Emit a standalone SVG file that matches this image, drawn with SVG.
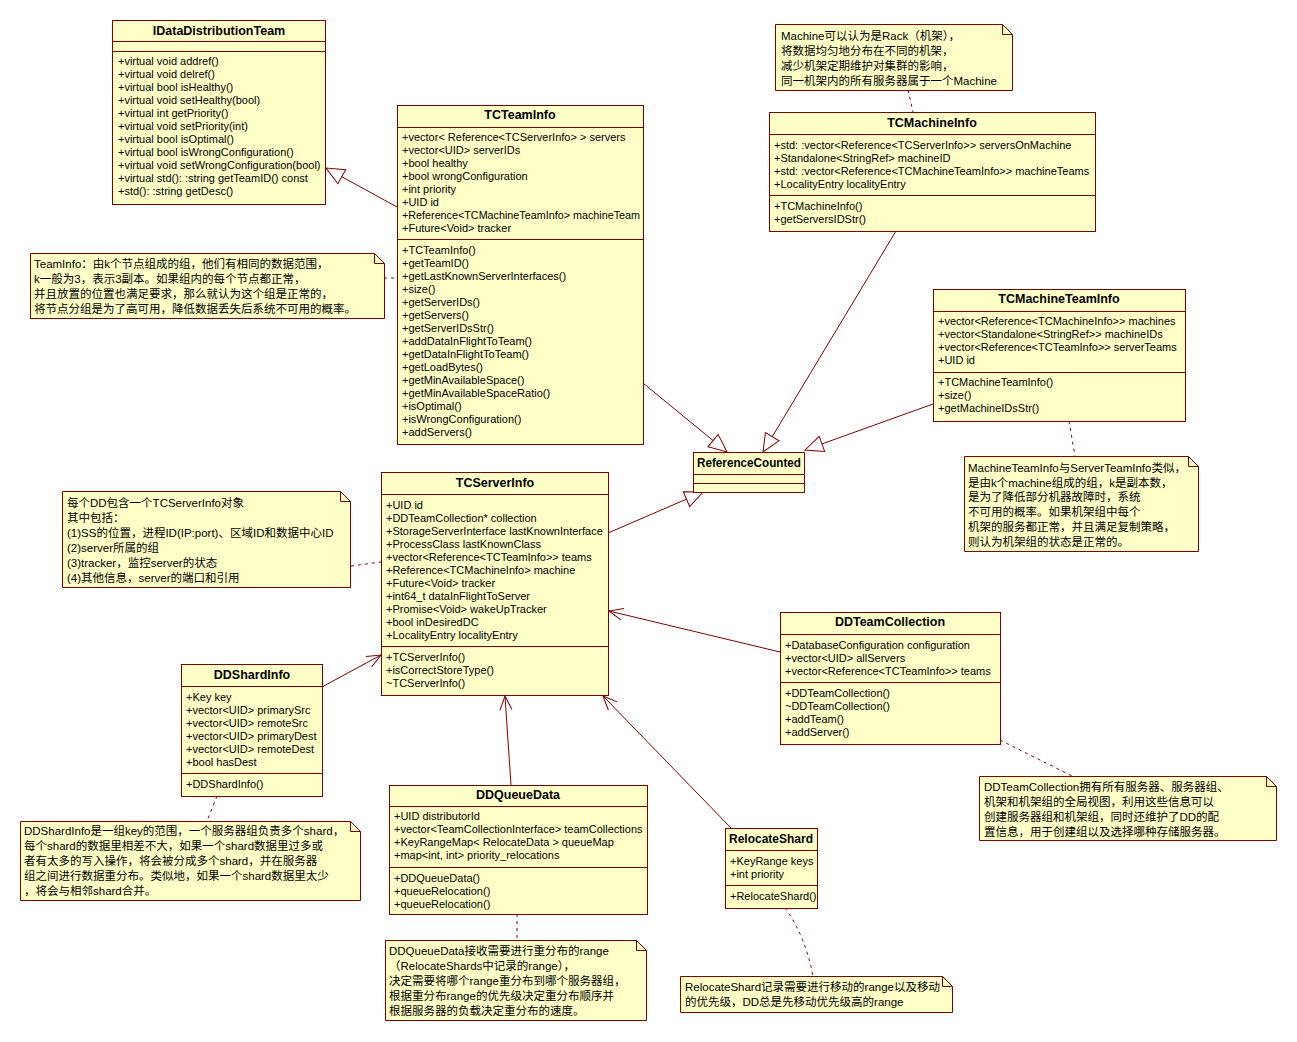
<svg xmlns="http://www.w3.org/2000/svg" width="1297" height="1042" viewBox="0 0 1297 1042">
<style>
.box{fill:#FFFFC8;stroke:#800000;stroke-width:1}
.sep{stroke:#800000;stroke-width:1}
.t{font-family:"Liberation Sans",Arial,sans-serif;font-size:11px;fill:#000}
.h{font-family:"Liberation Sans",Arial,sans-serif;font-size:12.5px;font-weight:bold;fill:#000;text-anchor:middle}
.n{font-family:"Liberation Sans","Noto Sans CJK SC",sans-serif;font-size:11.5px;fill:#000}
.gen{stroke:#800000;stroke-width:1;fill:none;marker-end:url(#tri)}
.asc{stroke:#800000;stroke-width:1;fill:none;marker-end:url(#open)}
.dash{stroke:#800000;stroke-width:1;fill:none;stroke-dasharray:3,4}
</style>
<defs>
<marker id="tri" viewBox="0 0 20 20" refX="19" refY="10" markerWidth="20" markerHeight="20" orient="auto" markerUnits="userSpaceOnUse"><path d="M1,2 L19,10 L1,18 z" fill="#fff" stroke="#800000"/></marker>
<marker id="open" viewBox="0 0 16 14" refX="15" refY="7" markerWidth="16" markerHeight="14" orient="auto" markerUnits="userSpaceOnUse"><path d="M1,1 L15,7 L1,13" fill="none" stroke="#800000"/></marker>
</defs>
<rect width="1297" height="1042" fill="#fff"/>

<g id="connectors">
<line class="gen" x1="397" y1="207" x2="326" y2="168"/>
<line class="gen" x1="643" y1="383" x2="727" y2="452"/>
<line class="gen" x1="896" y1="231" x2="763" y2="452"/>
<line class="gen" x1="933" y1="404" x2="805" y2="450"/>
<line class="gen" x1="608" y1="533" x2="703" y2="492"/>
<line class="asc" x1="780" y1="652" x2="609" y2="611"/>
<line class="asc" x1="322" y1="687" x2="381" y2="655"/>
<line class="asc" x1="511" y1="785" x2="505" y2="696"/>
<line class="asc" x1="731" y1="828" x2="603" y2="696"/>
<line class="dash" x1="908" y1="90" x2="913" y2="112"/>
<line class="dash" x1="384" y1="278" x2="397" y2="278"/>
<line class="dash" x1="1069" y1="421" x2="1075" y2="456"/>
<line class="dash" x1="351" y1="566" x2="381" y2="562"/>
<line class="dash" x1="217" y1="796" x2="207" y2="821"/>
<line class="dash" x1="517" y1="914" x2="517" y2="940"/>
<line class="dash" x1="1000" y1="740" x2="1072" y2="776"/>
<path class="dash" d="M785,908 Q805,935 813,976"/>
</g>

<g id="IDataDistributionTeam">
<rect class="box" x="112.5" y="20.5" width="213" height="184"/>
<text class="h" x="219" y="35">IDataDistributionTeam</text>
<line class="sep" x1="112.5" y1="41.5" x2="325.5" y2="41.5"/>
<line class="sep" x1="112.5" y1="51.5" x2="325.5" y2="51.5"/>
<text class="t" x="118" y="65">+virtual void addref()</text>
<text class="t" x="118" y="78">+virtual void delref()</text>
<text class="t" x="118" y="91">+virtual bool isHealthy()</text>
<text class="t" x="118" y="104">+virtual void setHealthy(bool)</text>
<text class="t" x="118" y="117">+virtual int getPriority()</text>
<text class="t" x="118" y="130">+virtual void setPriority(int)</text>
<text class="t" x="118" y="143">+virtual bool isOptimal()</text>
<text class="t" x="118" y="156">+virtual bool isWrongConfiguration()</text>
<text class="t" x="118" y="169">+virtual void setWrongConfiguration(bool)</text>
<text class="t" x="118" y="182">+virtual std(): :string getTeamID() const</text>
<text class="t" x="118" y="195">+std(): :string getDesc()</text>
</g>

<g id="TCTeamInfo">
<rect class="box" x="397.5" y="105.5" width="246" height="339"/>
<text class="h" x="520" y="119">TCTeamInfo</text>
<line class="sep" x1="397.5" y1="127.5" x2="643.5" y2="127.5"/>
<text class="t" x="402" y="141">+vector&lt; Reference&lt;TCServerInfo&gt; &gt; servers</text>
<text class="t" x="402" y="154">+vector&lt;UID&gt; serverIDs</text>
<text class="t" x="402" y="167">+bool healthy</text>
<text class="t" x="402" y="180">+bool wrongConfiguration</text>
<text class="t" x="402" y="193">+int priority</text>
<text class="t" x="402" y="206">+UID id</text>
<text class="t" x="402" y="219" textLength="238" lengthAdjust="spacingAndGlyphs">+Reference&lt;TCMachineTeamInfo&gt; machineTeam</text>
<text class="t" x="402" y="232">+Future&lt;Void&gt; tracker</text>
<line class="sep" x1="397.5" y1="239.5" x2="643.5" y2="239.5"/>
<text class="t" x="402" y="254">+TCTeamInfo()</text>
<text class="t" x="402" y="267">+getTeamID()</text>
<text class="t" x="402" y="280">+getLastKnownServerInterfaces()</text>
<text class="t" x="402" y="293">+size()</text>
<text class="t" x="402" y="306">+getServerIDs()</text>
<text class="t" x="402" y="319">+getServers()</text>
<text class="t" x="402" y="332">+getServerIDsStr()</text>
<text class="t" x="402" y="345">+addDataInFlightToTeam()</text>
<text class="t" x="402" y="358">+getDataInFlightToTeam()</text>
<text class="t" x="402" y="371">+getLoadBytes()</text>
<text class="t" x="402" y="384">+getMinAvailableSpace()</text>
<text class="t" x="402" y="397">+getMinAvailableSpaceRatio()</text>
<text class="t" x="402" y="410">+isOptimal()</text>
<text class="t" x="402" y="423">+isWrongConfiguration()</text>
<text class="t" x="402" y="436">+addServers()</text>
</g>

<g id="MachineNote">
<path class="box" d="M775.5,24.5 H1002.5 L1012.5,34.5 V90.5 H775.5 Z"/>
<path class="sep" fill="none" d="M1002.5,24.5 V34.5 H1012.5"/>
<text class="n" x="781" y="40">Machine可以认为是Rack（机架），</text>
<text class="n" x="781" y="55">将数据均匀地分布在不同的机架，</text>
<text class="n" x="781" y="70">减少机架定期维护对集群的影响，</text>
<text class="n" x="781" y="85">同一机架内的所有服务器属于一个Machine</text>
</g>

<g id="TCMachineInfo">
<rect class="box" x="769.5" y="112.5" width="326" height="119"/>
<text class="h" x="932" y="127">TCMachineInfo</text>
<line class="sep" x1="769.5" y1="134.5" x2="1095.5" y2="134.5"/>
<text class="t" x="774" y="149">+std: :vector&lt;Reference&lt;TCServerInfo&gt;&gt; serversOnMachine</text>
<text class="t" x="774" y="162">+Standalone&lt;StringRef&gt; machineID</text>
<text class="t" x="774" y="175">+std: :vector&lt;Reference&lt;TCMachineTeamInfo&gt;&gt; machineTeams</text>
<text class="t" x="774" y="188">+LocalityEntry localityEntry</text>
<line class="sep" x1="769.5" y1="195.5" x2="1095.5" y2="195.5"/>
<text class="t" x="774" y="210">+TCMachineInfo()</text>
<text class="t" x="774" y="223">+getServersIDStr()</text>
</g>

<g id="TCMachineTeamInfo">
<rect class="box" x="933.5" y="289.5" width="252" height="132"/>
<text class="h" x="1059" y="303">TCMachineTeamInfo</text>
<line class="sep" x1="933.5" y1="311.5" x2="1185.5" y2="311.5"/>
<text class="t" x="938" y="325">+vector&lt;Reference&lt;TCMachineInfo&gt;&gt; machines</text>
<text class="t" x="938" y="338">+vector&lt;Standalone&lt;StringRef&gt;&gt; machineIDs</text>
<text class="t" x="938" y="351">+vector&lt;Reference&lt;TCTeamInfo&gt;&gt; serverTeams</text>
<text class="t" x="938" y="364">+UID id</text>
<line class="sep" x1="933.5" y1="372.5" x2="1185.5" y2="372.5"/>
<text class="t" x="938" y="386">+TCMachineTeamInfo()</text>
<text class="t" x="938" y="399">+size()</text>
<text class="t" x="938" y="412">+getMachineIDsStr()</text>
</g>

<g id="TeamInfoNote">
<path class="box" d="M30.5,253.5 H374.5 L384.5,263.5 V318.5 H30.5 Z"/>
<path class="sep" fill="none" d="M374.5,253.5 V263.5 H384.5"/>
<text class="n" x="34" y="268">TeamInfo：由k个节点组成的组，他们有相同的数据范围，</text>
<text class="n" x="34" y="283">k一般为3，表示3副本。如果组内的每个节点都正常，</text>
<text class="n" x="34" y="298">并且放置的位置也满足要求，那么就认为这个组是正常的，</text>
<text class="n" x="34" y="313">将节点分组是为了高可用，降低数据丢失后系统不可用的概率。</text>
</g>

<g id="ReferenceCounted">
<rect class="box" x="693.5" y="452.5" width="111" height="40"/>
<text class="h" x="749" y="467" textLength="104" lengthAdjust="spacingAndGlyphs">ReferenceCounted</text>
<line class="sep" x1="693.5" y1="474.5" x2="804.5" y2="474.5"/>
<line class="sep" x1="693.5" y1="483.5" x2="804.5" y2="483.5"/>
</g>

<g id="MachineTeamInfoNote">
<path class="box" d="M964.5,456.5 H1188.5 L1198.5,466.5 V551.5 H964.5 Z"/>
<path class="sep" fill="none" d="M1188.5,456.5 V466.5 H1198.5"/>
<text class="n" x="968" y="472">MachineTeamInfo与ServerTeamInfo类似，</text>
<text class="n" x="968" y="487">是由k个machine组成的组，k是副本数，</text>
<text class="n" x="968" y="501">是为了降低部分机器故障时，系统</text>
<text class="n" x="968" y="516">不可用的概率。如果机架组中每个</text>
<text class="n" x="968" y="531">机架的服务都正常，并且满足复制策略，</text>
<text class="n" x="968" y="546">则认为机架组的状态是正常的。</text>
</g>

<g id="TCServerInfo">
<rect class="box" x="381.5" y="472.5" width="227" height="223"/>
<text class="h" x="495" y="487">TCServerInfo</text>
<line class="sep" x1="381.5" y1="494.5" x2="608.5" y2="494.5"/>
<text class="t" x="386" y="509">+UID id</text>
<text class="t" x="386" y="522">+DDTeamCollection* collection</text>
<text class="t" x="386" y="535">+StorageServerInterface lastKnownInterface</text>
<text class="t" x="386" y="548">+ProcessClass lastKnownClass</text>
<text class="t" x="386" y="561">+vector&lt;Reference&lt;TCTeamInfo&gt;&gt; teams</text>
<text class="t" x="386" y="574">+Reference&lt;TCMachineInfo&gt; machine</text>
<text class="t" x="386" y="587">+Future&lt;Void&gt; tracker</text>
<text class="t" x="386" y="600">+int64_t dataInFlightToServer</text>
<text class="t" x="386" y="613">+Promise&lt;Void&gt; wakeUpTracker</text>
<text class="t" x="386" y="626">+bool inDesiredDC</text>
<text class="t" x="386" y="639">+LocalityEntry localityEntry</text>
<line class="sep" x1="381.5" y1="646.5" x2="608.5" y2="646.5"/>
<text class="t" x="386" y="661">+TCServerInfo()</text>
<text class="t" x="386" y="674">+isCorrectStoreType()</text>
<text class="t" x="386" y="687">~TCServerInfo()</text>
</g>

<g id="DDNote">
<path class="box" d="M62.5,491.5 H340.5 L350.5,501.5 V587.5 H62.5 Z"/>
<path class="sep" fill="none" d="M340.5,491.5 V501.5 H350.5"/>
<text class="n" x="67" y="507">每个DD包含一个TCServerInfo对象</text>
<text class="n" x="67" y="522">其中包括：</text>
<text class="n" x="67" y="537">(1)SS的位置，进程ID(IP:port)、区域ID和数据中心ID</text>
<text class="n" x="67" y="552">(2)server所属的组</text>
<text class="n" x="67" y="567">(3)tracker，监控server的状态</text>
<text class="n" x="67" y="582">(4)其他信息，server的端口和引用</text>
</g>

<g id="DDShardInfo">
<rect class="box" x="181.5" y="664.5" width="141" height="132"/>
<text class="h" x="252" y="679">DDShardInfo</text>
<line class="sep" x1="181.5" y1="686.5" x2="322.5" y2="686.5"/>
<text class="t" x="186" y="701">+Key key</text>
<text class="t" x="186" y="714">+vector&lt;UID&gt; primarySrc</text>
<text class="t" x="186" y="727">+vector&lt;UID&gt; remoteSrc</text>
<text class="t" x="186" y="740">+vector&lt;UID&gt; primaryDest</text>
<text class="t" x="186" y="753">+vector&lt;UID&gt; remoteDest</text>
<text class="t" x="186" y="766">+bool hasDest</text>
<line class="sep" x1="181.5" y1="773.5" x2="322.5" y2="773.5"/>
<text class="t" x="186" y="788">+DDShardInfo()</text>
</g>

<g id="DDShardInfoNote">
<path class="box" d="M20.5,821.5 H350.5 L360.5,831.5 V900.5 H20.5 Z"/>
<path class="sep" fill="none" d="M350.5,821.5 V831.5 H360.5"/>
<text class="n" x="24" y="835">DDShardInfo是一组key的范围，一个服务器组负责多个shard，</text>
<text class="n" x="24" y="850">每个shard的数据里相差不大，如果一个shard数据里过多或</text>
<text class="n" x="24" y="865">者有太多的写入操作，将会被分成多个shard，并在服务器</text>
<text class="n" x="24" y="880">组之间进行数据重分布。类似地，如果一个shard数据里太少</text>
<text class="n" x="24" y="895">，将会与相邻shard合并。</text>
</g>

<g id="DDQueueData">
<rect class="box" x="389.5" y="785.5" width="258" height="129"/>
<text class="h" x="518" y="799">DDQueueData</text>
<line class="sep" x1="389.5" y1="806.5" x2="647.5" y2="806.5"/>
<text class="t" x="394" y="820">+UID distributorId</text>
<text class="t" x="394" y="833">+vector&lt;TeamCollectionInterface&gt; teamCollections</text>
<text class="t" x="394" y="846">+KeyRangeMap&lt; RelocateData &gt; queueMap</text>
<text class="t" x="394" y="859">+map&lt;int, int&gt; priority_relocations</text>
<line class="sep" x1="389.5" y1="867.5" x2="647.5" y2="867.5"/>
<text class="t" x="394" y="882">+DDQueueData()</text>
<text class="t" x="394" y="895">+queueRelocation()</text>
<text class="t" x="394" y="908">+queueRelocation()</text>
</g>

<g id="DDQueueDataNote">
<path class="box" d="M385.5,940.5 H636.5 L646.5,950.5 V1020.5 H385.5 Z"/>
<path class="sep" fill="none" d="M636.5,940.5 V950.5 H646.5"/>
<text class="n" x="389" y="955">DDQueueData接收需要进行重分布的range</text>
<text class="n" x="389" y="970">（RelocateShards中记录的range），</text>
<text class="n" x="389" y="985">决定需要将哪个range重分布到哪个服务器组，</text>
<text class="n" x="389" y="1000">根据重分布range的优先级决定重分布顺序并</text>
<text class="n" x="389" y="1015">根据服务器的负载决定重分布的速度。</text>
</g>

<g id="DDTeamCollection">
<rect class="box" x="780.5" y="612.5" width="220" height="132"/>
<text class="h" x="890" y="626">DDTeamCollection</text>
<line class="sep" x1="780.5" y1="634.5" x2="1000.5" y2="634.5"/>
<text class="t" x="785" y="649">+DatabaseConfiguration configuration</text>
<text class="t" x="785" y="662">+vector&lt;UID&gt; allServers</text>
<text class="t" x="785" y="675">+vector&lt;Reference&lt;TCTeamInfo&gt;&gt; teams</text>
<line class="sep" x1="780.5" y1="682.5" x2="1000.5" y2="682.5"/>
<text class="t" x="785" y="697">+DDTeamCollection()</text>
<text class="t" x="785" y="710">~DDTeamCollection()</text>
<text class="t" x="785" y="723">+addTeam()</text>
<text class="t" x="785" y="736">+addServer()</text>
</g>

<g id="DDTeamCollectionNote">
<path class="box" d="M979.5,776.5 H1266.5 L1276.5,786.5 V840.5 H979.5 Z"/>
<path class="sep" fill="none" d="M1266.5,776.5 V786.5 H1276.5"/>
<text class="n" x="984" y="791">DDTeamCollection拥有所有服务器、服务器组、</text>
<text class="n" x="984" y="806">机架和机架组的全局视图，利用这些信息可以</text>
<text class="n" x="984" y="821">创建服务器组和机架组，同时还维护了DD的配</text>
<text class="n" x="984" y="836">置信息，用于创建组以及选择哪种存储服务器。</text>
</g>

<g id="RelocateShard">
<rect class="box" x="725.5" y="828.5" width="92" height="80"/>
<text class="h" x="771" y="843" textLength="84" lengthAdjust="spacingAndGlyphs">RelocateShard</text>
<line class="sep" x1="725.5" y1="850.5" x2="817.5" y2="850.5"/>
<text class="t" x="730" y="865">+KeyRange keys</text>
<text class="t" x="730" y="878">+int priority</text>
<line class="sep" x1="725.5" y1="885.5" x2="817.5" y2="885.5"/>
<text class="t" x="730" y="900">+RelocateShard()</text>
</g>

<g id="RelocateShardNote">
<path class="box" d="M680.5,976.5 H942.5 L952.5,986.5 V1012.5 H680.5 Z"/>
<path class="sep" fill="none" d="M942.5,976.5 V986.5 H952.5"/>
<text class="n" x="685" y="991">RelocateShard记录需要进行移动的range以及移动</text>
<text class="n" x="685" y="1006">的优先级，DD总是先移动优先级高的range</text>
</g>
</svg>
